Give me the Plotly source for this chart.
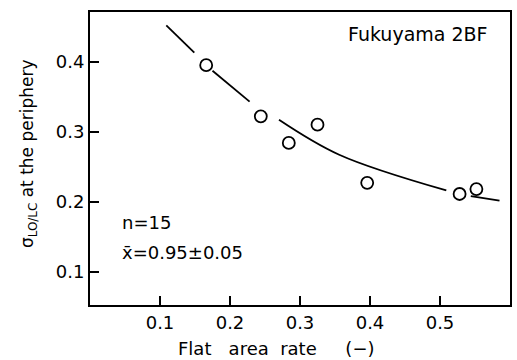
import plotly.graph_objects as go

# measured points
flat_rate = [0.166, 0.244, 0.284, 0.325, 0.396, 0.528, 0.552]
sigma = [0.395, 0.322, 0.284, 0.310, 0.227, 0.211, 0.218]

# fitted curve (None = gap in drawn line)
curve_x = [0.109, 0.149, None, 0.175, 0.228, None, 0.270, 0.356, 0.509, None, 0.544, 0.585]
curve_y = [0.452, 0.413, None, 0.387, 0.343, None, 0.317, 0.267, 0.216, None, 0.208, 0.2015]

x_ticks = [0.1, 0.2, 0.3, 0.4, 0.5]
x_ticklabels = ["0.1", "0.2", "0.3", "0.4", "0.5"]
y_ticks = [0.1, 0.2, 0.3, 0.4]
y_ticklabels = ["0.1", "0.2", "0.3", "0.4"]

FONT = "DejaVu Sans"
W, H = 517, 360
l, r, t, b = 90, 7, 12, 55
pw, ph = W - l - r, H - t - b


def px2paper(px, py):
    return (px - l) / pw, 1 - (py - t) / ph


fig = go.Figure()
fig.add_trace(go.Scatter(x=curve_x, y=curve_y, mode="lines", connectgaps=False,
                         line=dict(color="black", width=1.8, shape="spline"),
                         hoverinfo="skip", showlegend=False))
fig.add_trace(go.Scatter(x=flat_rate, y=sigma, mode="markers",
                         marker=dict(symbol="circle", size=12, color="white",
                                     line=dict(color="black", width=1.8)),
                         showlegend=False))

xt, yt = px2paper(276, 348)
xy, yy = px2paper(28, 154)

fig.update_layout(
    width=W, height=H,
    margin=dict(l=l, r=r, t=t, b=b, autoexpand=False),
    paper_bgcolor="white", plot_bgcolor="white",
    font=dict(family=FONT, size=18, color="black"),
    xaxis=dict(range=[0, 0.6], tickvals=x_ticks, ticktext=x_ticklabels,
               ticks="inside", ticklen=9, tickwidth=1.5, tickcolor="black",
               showline=True, linecolor="black", linewidth=2, mirror=True,
               showgrid=False, zeroline=False, tickfont=dict(size=18),
               automargin=False),
    yaxis=dict(range=[0.0524, 0.471], tickvals=y_ticks, ticktext=y_ticklabels,
               ticks="inside", ticklen=9, tickwidth=1.5, tickcolor="black",
               showline=True, linecolor="black", linewidth=2, mirror=True,
               showgrid=False, zeroline=False, tickfont=dict(size=18),
               automargin=False),
    annotations=[
        dict(text="Fukuyama 2BF", x=0.5714, y=0.4395, xref="x", yref="y",
             xanchor="right", yanchor="middle", showarrow=False,
             font=dict(size=19)),
        dict(text="n=15", x=0.043, y=0.1706, xref="x", yref="y",
             xanchor="left", yanchor="middle", showarrow=False,
             font=dict(size=18)),
        dict(text="x\u0304=0.95±0.05", x=0.043, y=0.1278, xref="x", yref="y",
             xanchor="left", yanchor="middle", showarrow=False,
             font=dict(size=18)),
        dict(text="Flat   area  rate     (−)", x=xt, y=yt, xref="paper", yref="paper",
             xanchor="center", yanchor="middle", showarrow=False,
             font=dict(size=18)),
        dict(text="σ<sub>LO/LC</sub> at the periphery", x=xy, y=yy,
             xref="paper", yref="paper", xanchor="center", yanchor="middle",
             showarrow=False, textangle=-90, font=dict(size=17)),
    ],
)

fig.write_html("out.html",
               config={"displayModeBar": False},
               post_script="document.body.style.margin='0';"
                           "document.documentElement.style.margin='0';")
